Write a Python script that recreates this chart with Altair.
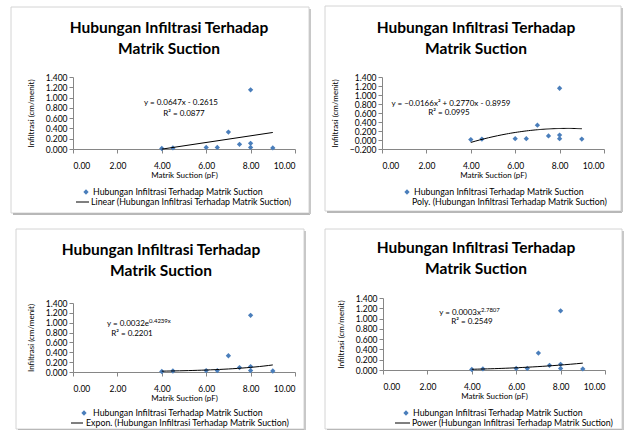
import altair as alt
import pandas as pd

# Field measurements: matric suction and infiltration rate
suction = [4.0, 4.5, 6.0, 6.5, 7.0, 7.5, 8.0, 8.0, 8.0, 9.0]
infiltrasi = [0.010, 0.020, 0.030, 0.030, 0.330, 0.090, 1.150, 0.110, 0.030, 0.020]

title_lines = ["Hubungan Infiltrasi Terhadap", "Matrik Suction"]
x_title = "Matrik Suction (pF)"
y_title = "Infiltrasi (cm/menit)"
series_name = "Hubungan Infiltrasi Terhadap Matrik Suction"
x_ticks = [0, 2, 4, 6, 8, 10]
y_ticks = [0.0, 0.2, 0.4, 0.6, 0.8, 1.0, 1.2, 1.4]
y_ticks_neg = [-0.2, 0.0, 0.2, 0.4, 0.6, 0.8, 1.0, 1.2, 1.4]

df = pd.DataFrame({"x": suction, "y": infiltrasi})
one = pd.DataFrame({"k": [0]})

FONT = "Lato"
MARK_BLUE = "#4a7ebb"
W = 222


def fmt_signed(expr):
    return f"({expr} < 0 ? '- ' : '+ ') + format(abs({expr}), '.4f')"


def trend_source(method):
    """Trendline curve and fitted parameters, least squares as in a spreadsheet."""
    base = alt.Chart(df)
    if method == "linear":
        curve = base.transform_regression("x", "y", method="linear")
        params = base.transform_regression("x", "y", method="linear", params=True)
    elif method == "poly":
        curve = base.transform_regression("x", "y", method="poly", order=2)
        params = base.transform_regression("x", "y", method="poly", order=2, params=True)
    elif method == "exp":
        # ln(y) = ln(a) + b x
        logd = base.transform_calculate(ly="log(datum.y)")
        curve = logd.transform_regression("x", "ly", method="poly", order=1).transform_calculate(
            y="exp(datum.ly)")
        params = logd.transform_regression("x", "ly", method="poly", order=1, params=True)
    else:
        # ln(y) = ln(a) + b ln(x)
        logd = base.transform_calculate(lx="log(datum.x)", ly="log(datum.y)")
        curve = logd.transform_regression("lx", "ly", method="poly", order=1).transform_calculate(
            x="exp(datum.lx)", y="exp(datum.ly)")
        params = logd.transform_regression("lx", "ly", method="poly", order=1, params=True)
    return curve, params


def panel(method, trend_label, yt, h, box, title_xy, eq_xy, r2_xy, leg,
          trend_symbol=True):
    x_enc = alt.X("x:Q", scale=alt.Scale(domain=[0, 10], nice=False),
                  axis=alt.Axis(values=x_ticks, format=".2f", title=x_title))
    y_enc = alt.Y("y:Q", scale=alt.Scale(domain=[yt[0], yt[-1]], nice=False),
                  axis=alt.Axis(values=yt, format=".3f", title=y_title))

    points = alt.Chart(df).mark_point(shape="diamond", filled=True, size=28,
                                      color=MARK_BLUE, opacity=1).encode(x=x_enc, y=y_enc)
    curve, params = trend_source(method)
    trend = curve.mark_line(color="black", strokeWidth=1).encode(x=x_enc, y=y_enc)

    r2 = params.transform_calculate(
        r2="'R² = ' + format(datum.rSquared, '.4f')"
    ).mark_text(fontSize=8, font=FONT, align="center", baseline="middle").encode(
        x=alt.value(r2_xy[0]), y=alt.value(r2_xy[1]), text="r2:N")

    layers = [points, trend]
    if method in ("linear", "poly"):
        if method == "linear":
            eq = "'y = ' + format(datum.coef[1], '.4f') + 'x ' + " + fmt_signed("datum.coef[0]")
        else:
            eq = ("'y = ' + format(datum.coef[2], '.4f') + 'x² ' + " + fmt_signed("datum.coef[1]")
                  + " + 'x ' + " + fmt_signed("datum.coef[0]"))
        layers.append(params.transform_calculate(eq=eq).mark_text(
            fontSize=8, font=FONT, align="center", baseline="middle").encode(
            x=alt.value(eq_xy[0]), y=alt.value(eq_xy[1]), text="eq:N"))
    else:
        # base and raised exponent of the exponential / power equation
        if method == "exp":
            base = "'y = ' + format(exp(datum.coef[0]), '.4f') + 'e'"
            sup = "format(datum.coef[1], '.4f') + 'x'"
        else:
            base = "'y = ' + format(exp(datum.coef[0]), '.4f') + 'x'"
            sup = "format(datum.coef[1], '.4f')"
        layers.append(params.transform_calculate(eq=base).mark_text(
            fontSize=8, font=FONT, align="right", baseline="middle").encode(
            x=alt.value(eq_xy[0]), y=alt.value(eq_xy[1]), text="eq:N"))
        layers.append(params.transform_calculate(sup=sup).mark_text(
            fontSize=6, font=FONT, align="left", baseline="middle", dy=-3).encode(
            x=alt.value(eq_xy[0]), y=alt.value(eq_xy[1]), text="sup:N"))
    layers.append(r2)

    # chart title
    layers.append(alt.Chart(one).mark_text(
        font=FONT, fontSize=15.5, fontWeight="bold", lineHeight=20.5, align="center",
        baseline="top", color="#000000").encode(
        x=alt.value(title_xy[0]), y=alt.value(title_xy[1]), text=alt.value(title_lines)))

    # legend: marker row and trendline row
    mx, my, tx, lx1, lx2, ly, tx2 = leg
    layers.append(alt.Chart(one).mark_point(shape="diamond", filled=True, size=28,
                                            color=MARK_BLUE, opacity=1).encode(
        x=alt.value(mx), y=alt.value(my)))
    layers.append(alt.Chart(one).mark_text(fontSize=8.8, font=FONT, align="left",
                                           baseline="middle").encode(
        x=alt.value(tx), y=alt.value(my), text=alt.value(series_name)))
    if trend_symbol:
        layers.append(alt.Chart(one).mark_rule(color="black", strokeWidth=1).encode(
            x=alt.value(lx1), x2=alt.value(lx2), y=alt.value(ly)))
    layers.append(alt.Chart(one).mark_text(fontSize=8.8, font=FONT, align="left",
                                           baseline="middle").encode(
        x=alt.value(tx2), y=alt.value(ly),
        text=alt.value(f"{trend_label} ({series_name})")))

    # chart-area frame with a soft shadow on the right and bottom
    bx1, bx2, by1, by2 = box
    layers.append(alt.Chart(one).mark_rect(fillOpacity=0, stroke="#d4d4d4",
                                           strokeWidth=1).encode(
        x=alt.value(bx1), x2=alt.value(bx2), y=alt.value(by1), y2=alt.value(by2)))
    layers.append(alt.Chart(one).mark_rule(color="#b8b8b8", strokeWidth=2).encode(
        x=alt.value(bx1 + 2), x2=alt.value(bx2 + 1), y=alt.value(by2 + 1)))
    layers.append(alt.Chart(one).mark_rule(color="#c8c8c8", strokeWidth=2).encode(
        x=alt.value(bx2 + 1), y=alt.value(by1 + 2), y2=alt.value(by2 + 1)))

    return alt.layer(*layers).properties(width=W, height=h)


p1 = panel("linear", "Linear", y_ticks, 72, (-62, 236, -70, 136), (96, -56),
           (108, 26), (111, 37), (13, 115, 20, 3, 16, 125, 18))
p2 = panel("poly", "Poly.", y_ticks_neg, 72, (-57, 239, -71, 134), (94, -56),
           (69, 27), (67, 36), (25, 115, 32, 0, 0, 125, 30), trend_symbol=False)
p3 = panel("exp", "Expon.", y_ticks, 69, (-57, 231, -74, 126), (88, -60),
           (76, 21), (59, 31), (11, 110, 20, -2, 10, 120, 13))
p4 = panel("pow", "Power", y_ticks, 72, (-58, 239, -69, 131), (93, -57),
           (98, 15), (89, 24), (23, 115, 30, 12, 27, 125, 29))

chart = alt.concat(
    p1, p2, p3, p4,
    columns=2,
    align="none",
    spacing={"row": 12, "column": 12},
).properties(
    padding={"left": 10, "top": 5, "right": 0, "bottom": 0},
    background="white",
).configure_view(stroke="transparent").configure_axis(
    grid=False,
    domainColor="#868686",
    tickColor="#868686",
    tickSize=4,
    labelFont=FONT,
    labelFontSize=8.5,
    labelColor="#000000",
    titleFont=FONT,
    titleFontSize=8,
    titleFontWeight="normal",
    titleColor="#000000",
).configure_axisX(labelPadding=8, titlePadding=2).configure_axisY(
    labelPadding=2, titlePadding=10)

chart.save("out.html", embed_options={"renderer": "svg", "actions": False})
